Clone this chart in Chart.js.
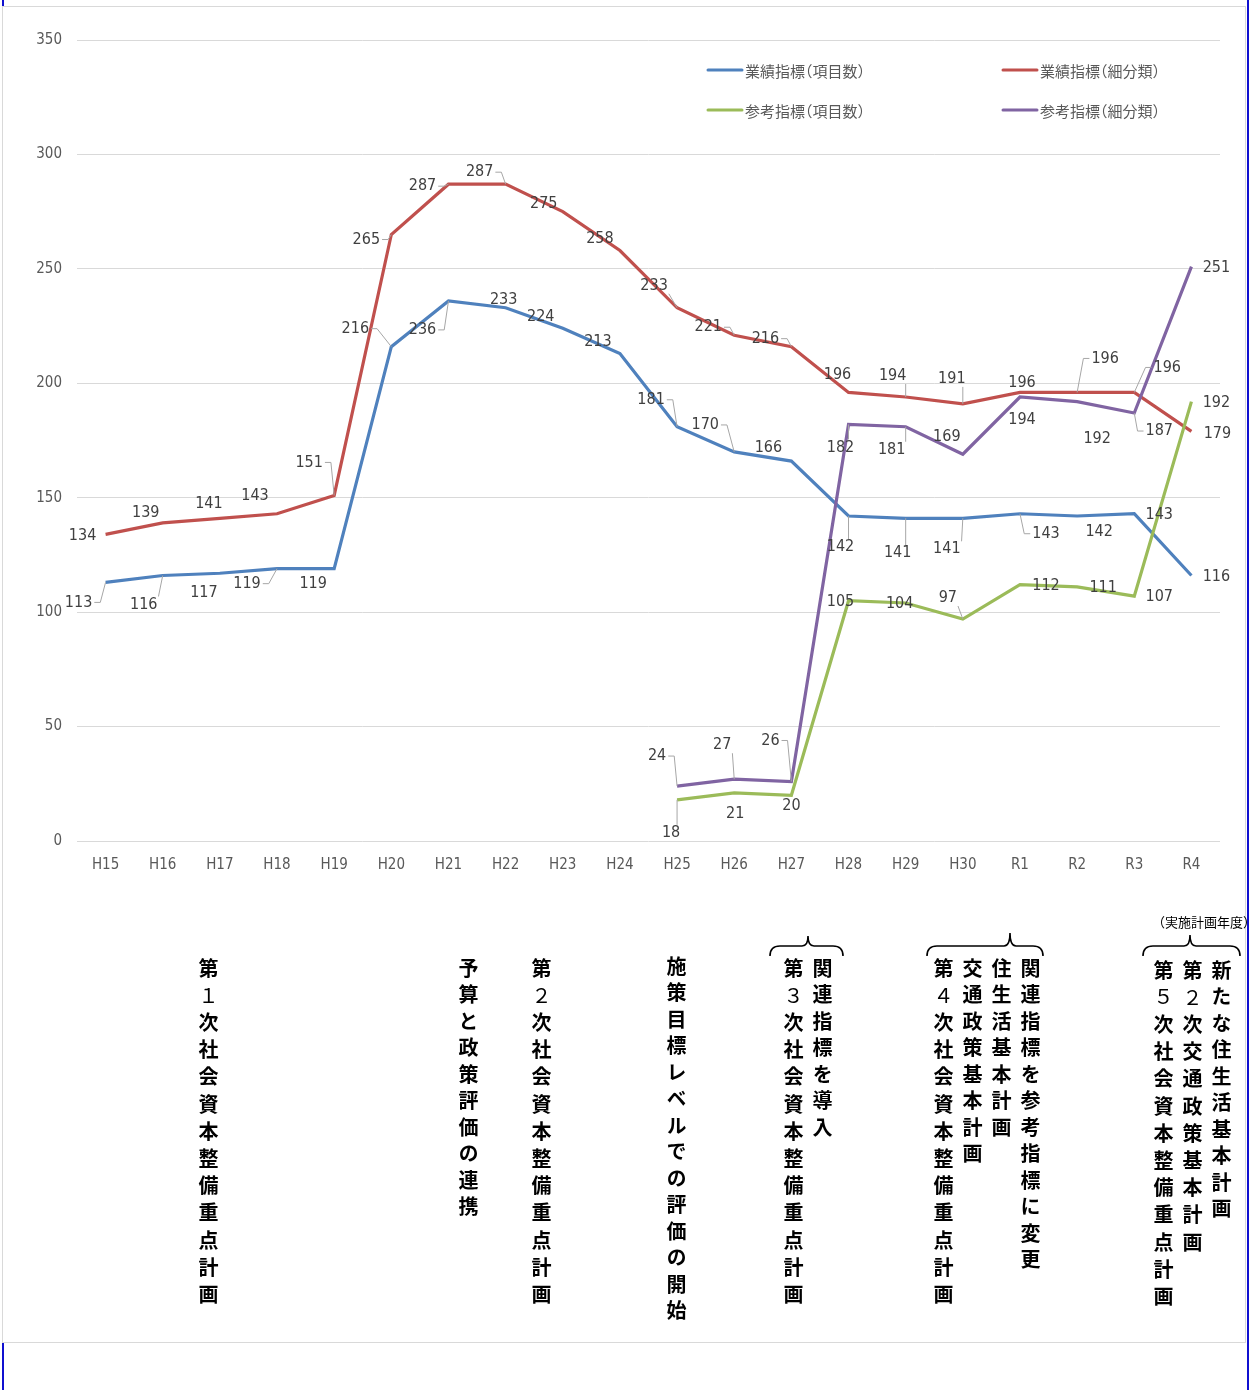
<!DOCTYPE html>
<html lang="ja">
<head>
<meta charset="utf-8">
<title>業績指標・参考指標の推移</title>
<script src="https://cdn.jsdelivr.net/npm/chart.js@4.4.1/dist/chart.umd.min.js"></script>
<style>
  html, body { margin: 0; padding: 0; background: #ffffff; }
  #page { position: relative; width: 1255px; height: 1390px; overflow: hidden; background: #fff; }
  .edge { position: absolute; background: #1010d0; width: 2px; }
  #frame { position: absolute; left: 2px; top: 6px; width: 1244px; height: 1337px;
           border: 1px solid #d9d9d9; background: #ffffff; box-sizing: border-box; }
  #chart { position: absolute; left: 0; top: 0; }
  .col { position: absolute; writing-mode: vertical-rl; text-orientation: upright;
         font-family: "Noto Sans CJK JP", "Noto Sans CJK SC", sans-serif; font-weight: 700;
         font-size: 20px; line-height: 28px; width: 28px; letter-spacing: 6.5px; color: #000; white-space: nowrap; }
  .col.wide { letter-spacing: 7.2px; }
  .col .num { font-weight: 400; }
  .note { position: absolute; font-family: "Noto Sans CJK JP", sans-serif; font-size: 13px;
          color: #000; white-space: nowrap; }
  svg.braces { position: absolute; left: 0; top: 0; }
</style>
</head>
<body>
<div id="page">
  <div class="edge" style="left:2px;top:0;height:1390px;"></div>
  <div id="frame"></div>
  <div class="edge" style="left:1247px;top:0;height:1390px;"></div>
  <canvas id="chart" width="1255" height="900"></canvas>

  <svg class="braces" width="1255" height="1390">
    <g fill="none" stroke="#000" stroke-width="1.6">
      <path d="M770,956 Q770,946 780,946 L802,946 Q808,946 808,936 Q808,946 814,946 L833,946 Q843,946 843,956"/>
      <path d="M927,956 Q927,946 937,946 L1004,946 Q1010,946 1010,933 Q1010,946 1016,946 L1033,946 Q1043,946 1043,956"/>
      <path d="M1143,956 Q1143,946 1153,946 L1184,946 Q1190,946 1190,935 Q1190,946 1196,946 L1230,946 Q1240,946 1240,956"/>
    </g>
  </svg>
  <div class="note" style="left:1152px;top:912px;">（実施計画年度）</div>

  <div class="col wide" style="left:194px;top:958px;">第<span class="num">１</span>次社会資本整備重点計画</div>
  <div class="col" style="left:454px;top:958px;">予算と政策評価の連携</div>
  <div class="col wide" style="left:527px;top:958px;">第<span class="num">２</span>次社会資本整備重点計画</div>
  <div class="col" style="left:662px;top:956px;">施策目標レベルでの評価の開始</div>
  <div class="col wide" style="left:779px;top:958px;">第<span class="num">３</span>次社会資本整備重点計画</div>
  <div class="col" style="left:808px;top:958px;">関連指標を導入</div>
  <div class="col wide" style="left:929px;top:958px;">第<span class="num">４</span>次社会資本整備重点計画</div>
  <div class="col" style="left:958px;top:958px;">交通政策基本計画</div>
  <div class="col" style="left:987px;top:958px;">住生活基本計画</div>
  <div class="col" style="left:1016px;top:958px;">関連指標を参考指標に変更</div>
  <div class="col wide" style="left:1149px;top:960px;">第<span class="num">５</span>次社会資本整備重点計画</div>
  <div class="col wide" style="left:1178px;top:960px;">第<span class="num">２</span>次交通政策基本計画</div>
  <div class="col" style="left:1207px;top:960px;">新たな住生活基本計画</div>
</div>

<script>
// 年度（平成15年度〜令和4年度）
const years = ['H15','H16','H17','H18','H19','H20','H21','H22','H23','H24',
               'H25','H26','H27','H28','H29','H30','R1','R2','R3','R4'];

// 系列名
const seriesNames = ['業績指標（項目数）', '業績指標（細分類）', '参考指標（項目数）', '参考指標（細分類）'];

// 指標数
const perfItems    = [113,116,117,119,119,216,236,233,224,213,181,170,166,142,141,141,143,142,143,116];
const perfDetail   = [134,139,141,143,151,265,287,287,275,258,233,221,216,196,194,191,196,196,196,179];
const refItems     = [null,null,null,null,null,null,null,null,null,null,18,21,20,105,104,97,112,111,107,192];
const refDetail    = [null,null,null,null,null,null,null,null,null,null,24,27,26,182,181,169,194,192,187,251];

// 縦軸目盛
const yTicks = [0, 50, 100, 150, 200, 250, 300, 350];

// データラベルの位置（点からのずれ dx, dy と引き出し線の種類: 0なし, 1折れ線, 2直線）
const perfItemsLabelPos = [
  [-27,20,1],[-19,29,2],[-16,20,0],[-30,15,1],[-21,15,0],[-36,-18,1],[-26,29,1],[-2,-8,0],[-22,-12,0],[-22,-12,0],
  [-26,-27,1],[-29,-27,1],[-23,-13,0],[-8,31,2],[-8,35,2],[-16,31,2],[26,20,1],[22,16,0],[25,1,0],[25,1,0]
];
const perfDetailLabelPos = [
  [-23,2,0],[-17,-10,0],[-11,-14,0],[-22,-18,0],[-25,-33,1],[-25,5,1],[-26,2,1],[-26,-12,1],[-19,-8,0],[-20,-12,0],
  [-23,-22,2],[-26,-8,1],[-26,-8,1],[-11,-18,0],[-13,-21,2],[-11,-25,2],[2,-10,0],[28,-34,1],[33,-25,1],[26,2,0]
];
const refItemsLabelPos = [
  null,null,null,null,null,null,null,null,null,null,
  [-6,33,2],[1,21,0],[0,11,0],[-8,1,0],[-6,1,0],[-15,-21,2],[26,1,0],[26,1,0],[25,1,0],[25,1,0]
];
const refDetailLabelPos = [
  null,null,null,null,null,null,null,null,null,null,
  [-20,-30,1],[-12,-34,2],[-21,-41,1],[-8,23,2],[-14,23,2],[-16,-17,0],[2,23,0],[20,37,0],[25,18,1],[25,1,0]
];

const colors = ['#4f81bd', '#c0504d', '#9bbb59', '#8064a2'];
const numFamily = '"Liberation Sans Narrow", "DejaVu Sans Condensed", "Liberation Sans", sans-serif';
const numFont = '16px ' + numFamily;

// 値ラベルと引き出し線
const valueLabels = {
  id: 'valueLabels',
  afterDatasetsDraw(chart) {
    const ctx = chart.ctx;
    ctx.save();
    ctx.font = numFont;
    ctx.textAlign = 'center';
    ctx.textBaseline = 'middle';
    chart.data.datasets.forEach((ds, di) => {
      const meta = chart.getDatasetMeta(di);
      ds.data.forEach((v, i) => {
        if (v === null || !ds.labelPos[i]) return;
        const pt = meta.data[i];
        const [dx, dy, kind] = ds.labelPos[i];
        const lx = pt.x + dx, ly = pt.y + dy;
        const txt = String(v);
        const w = ctx.measureText(txt).width, h = 14;
        ctx.strokeStyle = '#a6a6a6';
        ctx.lineWidth = 1;
        if (kind === 1) {
          const right = pt.x > lx;
          const sx = right ? lx + w / 2 + 2 : lx - w / 2 - 2;
          const ex = right ? sx + 6 : sx - 6;
          ctx.beginPath();
          ctx.moveTo(sx, ly);
          ctx.lineTo(ex, ly);
          ctx.lineTo(pt.x, pt.y);
          ctx.stroke();
        } else if (kind === 2) {
          const sx = Math.min(Math.max(pt.x, lx - w / 2 - 1), lx + w / 2 + 1);
          const sy = Math.min(Math.max(pt.y, ly - h / 2 - 1), ly + h / 2 + 1);
          ctx.beginPath();
          ctx.moveTo(sx, sy);
          ctx.lineTo(pt.x, pt.y);
          ctx.stroke();
        }
        ctx.fillStyle = '#404040';
        ctx.fillText(txt, lx, ly);
      });
    });
    ctx.restore();
  }
};

// 2列の凡例
const gridLegend = {
  id: 'gridLegend',
  afterDraw(chart) {
    const ctx = chart.ctx;
    const cols = [708, 1003], rows = [70, 110];
    ctx.save();
    ctx.textBaseline = 'middle';
    ctx.textAlign = 'left';
    chart.data.datasets.forEach((ds, di) => {
      const x = cols[di % 2], y = rows[Math.floor(di / 2)];
      ctx.strokeStyle = ds.borderColor;
      ctx.lineWidth = 3;
      ctx.lineCap = 'round';
      ctx.beginPath();
      ctx.moveTo(x, y);
      ctx.lineTo(x + 34, y);
      ctx.stroke();
      // 全角括弧を詰めて描く
      ctx.fillStyle = '#595959';
      ctx.font = '15px "Noto Sans CJK JP", sans-serif';
      let cx = x + 37;
      for (const ch of ds.label) {
        const isParen = ch === '（' || ch === '）';
        const cw = ctx.measureText(ch).width;
        if (isParen) {
          const shift = ch === '（' ? -cw * 0.5 : 0;
          ctx.fillText(ch, cx + shift, y + 1);
          cx += cw * 0.5;
        } else {
          ctx.fillText(ch, cx, y + 1);
          cx += cw;
        }
      }
    });
    ctx.restore();
  }
};

const seriesData = [perfItems, perfDetail, refItems, refDetail];
const seriesLabelPos = [perfItemsLabelPos, perfDetailLabelPos, refItemsLabelPos, refDetailLabelPos];

new Chart(document.getElementById('chart'), {
  type: 'line',
  data: {
    labels: years,
    datasets: seriesData.map((d, i) => ({
      label: seriesNames[i],
      data: d,
      labelPos: seriesLabelPos[i],
      borderColor: colors[i],
      backgroundColor: colors[i],
      borderWidth: 3.2,
      pointRadius: 0,
      tension: 0,
      spanGaps: false,
      order: 3 - i
    }))
  },
  options: {
    responsive: false,
    devicePixelRatio: 1,
    animation: false,
    layout: { padding: { left: 0, right: 35, top: 40, bottom: 0 } },
    plugins: { legend: { display: false }, tooltip: { enabled: false } },
    scales: {
      x: {
        type: 'category',
        offset: true,
        grid: { display: false, drawTicks: false },
        border: { display: false },
        ticks: { color: '#595959', font: { family: numFamily, size: 15 },
                 padding: 15, maxRotation: 0, autoSkip: false },
        afterFit(scale) { scale.height = 59; }
      },
      y: {
        min: 0, max: 350,
        afterBuildTicks(scale) { scale.ticks = yTicks.map(v => ({ value: v })); },
        grid: { color: '#d9d9d9', lineWidth: 1, drawTicks: false },
        border: { display: false },
        ticks: { color: '#595959', font: { family: numFamily, size: 15 },
                 padding: 15 },
        afterFit(scale) { scale.width = 77; }
      }
    }
  },
  plugins: [valueLabels, gridLegend]
});
</script>
</body>
</html>
